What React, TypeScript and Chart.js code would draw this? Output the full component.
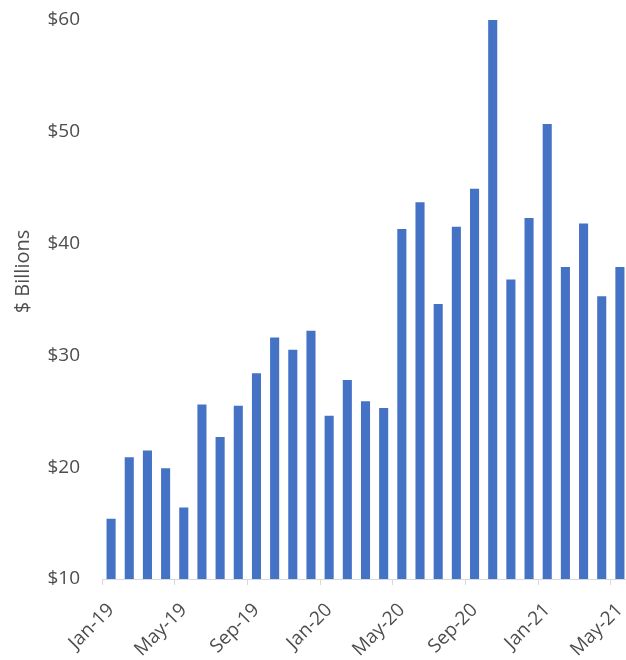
import React, { useEffect, useRef } from "react";
import { Chart, registerables } from "chart.js";

Chart.register(...registerables);

// Monthly totals, $ billions
const months = [
  "Jan-19", "Feb-19", "Mar-19", "Apr-19", "May-19", "Jun-19", "Jul-19", "Aug-19",
  "Sep-19", "Oct-19", "Nov-19", "Dec-19", "Jan-20", "Feb-20", "Mar-20", "Apr-20",
  "May-20", "Jun-20", "Jul-20", "Aug-20", "Sep-20", "Oct-20", "Nov-20", "Dec-20",
  "Jan-21", "Feb-21", "Mar-21", "Apr-21", "May-21",
];

const values = [
  15.4, 20.9, 21.5, 19.9, 16.4, 25.6, 22.7, 25.5,
  28.4, 31.6, 30.5, 32.2, 24.6, 27.8, 25.9, 25.3,
  41.3, 43.7, 34.6, 41.5, 44.9, 60.0, 36.8, 42.3,
  50.7, 37.9, 41.8, 35.3, 37.9,
];

const yMin = 10;
const yMax = 60;
const yStep = 10;
const labelEvery = 4;
const yTitle = "$ Billions";

const FONT = "'Open Sans', sans-serif";
const TEXT = "#4d4d4d";
const AXIS = "#D9D9D9";
const BAR = "#4472C4";

const yTitlePlugin = {
  id: "yTitle",
  afterDraw(chart: any) {
    const { ctx, chartArea } = chart;
    ctx.save();
    ctx.font = `20px ${FONT}`;
    ctx.fillStyle = TEXT;
    ctx.textAlign = "center";
    ctx.textBaseline = "middle";
    ctx.translate(chartArea.left - 79, (chartArea.top + chartArea.bottom) / 2 - 28);
    ctx.rotate(-Math.PI / 2);
    ctx.fillText(yTitle, 0, 0);
    ctx.restore();
  },
};

export default function App() {
  const ref = useRef<HTMLCanvasElement>(null);

  useEffect(() => {
    if (!ref.current) return;
    const chart = new Chart(ref.current, {
      type: "bar",
      data: {
        labels: months,
        datasets: [
          {
            data: values,
            backgroundColor: BAR,
            borderWidth: 0,
            categoryPercentage: 1,
            barPercentage: 0.5,
          },
        ],
      },
      plugins: [yTitlePlugin],
      options: {
        responsive: false,
        animation: false,
        layout: { padding: { top: 20, left: 0, right: 0, bottom: 0 } },
        plugins: {
          legend: { display: false },
          tooltip: { enabled: false },
        },
        scales: {
          x: {
            offset: true,
            grid: {
              offset: true,
              drawOnChartArea: false,
              drawTicks: true,
              tickLength: 6,
              color: (c: any) => (c.index % labelEvery === 0 ? AXIS : "rgba(0,0,0,0)"),
            },
            border: { display: true, color: AXIS, width: 1 },
            ticks: {
              autoSkip: false,
              minRotation: 45,
              maxRotation: 45,
              padding: 14,
              color: TEXT,
              font: { family: FONT, size: 19 },
              callback: (_v: any, i: number) => (i % labelEvery === 0 ? months[i] : ""),
            },
            afterFit: (s: any) => {
              s.height = 81;
              s.paddingLeft = 0;
              s.paddingRight = 0;
            },
          },
          y: {
            min: yMin,
            max: yMax,
            grid: { display: false, drawTicks: false },
            border: { display: false },
            ticks: {
              stepSize: yStep,
              padding: 22,
              color: TEXT,
              font: { family: FONT, size: 19 },
              callback: (v: any) => "$" + v,
            },
            afterFit: (s: any) => {
              s.width = 102;
              s.paddingTop = 0;
              s.paddingBottom = 0;
            },
          },
        },
      },
    });
    return () => chart.destroy();
  }, []);

  return (
    <div
      style={{
        position: "fixed",
        left: 0,
        top: 0,
        width: 626,
        height: 660,
        overflow: "hidden",
        background: "#fff",
      }}
    >
      <canvas ref={ref} width={629} height={660} style={{ display: "block" }} />
    </div>
  );
}
